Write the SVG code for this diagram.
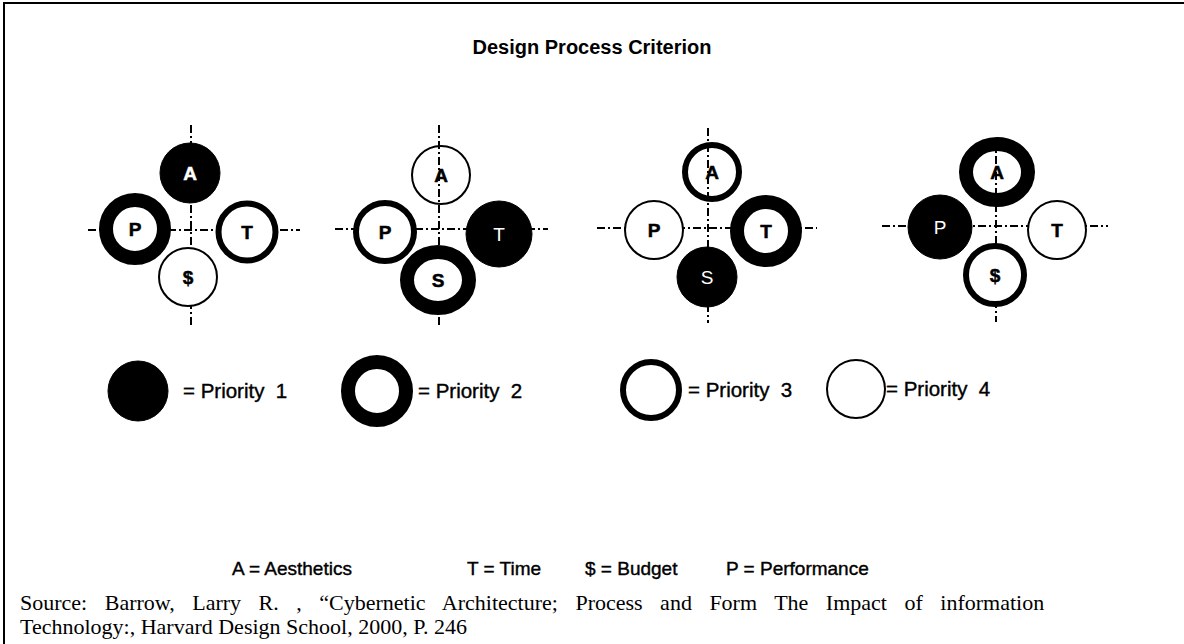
<svg xmlns="http://www.w3.org/2000/svg" width="1184" height="644" viewBox="0 0 1184 644">
<style>
.axis{stroke:#000;stroke-width:2;stroke-dasharray:8 3 2 3;fill:none}
.p1{fill:#000;stroke:#000;stroke-width:1}
.p2{fill:#fff;stroke:#000;stroke-width:14}
.p3{fill:#fff;stroke:#000;stroke-width:6}
.p4{fill:#fff;stroke:#000;stroke-width:2}
.open{fill:none}
.lb{font-family:"Liberation Sans",Arial,sans-serif;font-weight:bold;font-size:19px;text-anchor:middle;fill:#000;stroke:#000;stroke-width:0.5}
.lw{font-family:"Liberation Sans",Arial,sans-serif;font-size:19px;text-anchor:middle;fill:#fff}
.leg{font-family:"Liberation Sans",Arial,sans-serif;font-size:20.5px;fill:#000;stroke:#000;stroke-width:0.4;white-space:pre}
.key{font-family:"Liberation Sans",Arial,sans-serif;font-size:19px;fill:#000;stroke:#000;stroke-width:0.4;white-space:pre}
.title{font-family:"Liberation Sans",Arial,sans-serif;font-weight:bold;font-size:20px;text-anchor:middle}
.src{font-family:"Liberation Serif","Times New Roman",serif;font-size:22px}
</style>
<rect x="0" y="0" width="1184" height="644" fill="#fff"/>
<path d="M4,644 V3 H1184" fill="none" stroke="#000" stroke-width="2"/>
<text class="title" x="592" y="54">Design Process Criterion</text>
<g id="connectors">
<line class="axis" x1="88" y1="230" x2="300" y2="230"/>
<line class="axis" x1="191" y1="125" x2="191" y2="325"/>
<line class="axis" x1="335" y1="229" x2="548" y2="229"/>
<line class="axis" x1="439" y1="125" x2="439" y2="325"/>
<line class="axis" x1="597" y1="228" x2="817" y2="228"/>
<line class="axis" x1="708" y1="128" x2="708" y2="323"/>
<line class="axis" x1="882" y1="226" x2="1108" y2="226"/>
<line class="axis" x1="996" y1="140" x2="996" y2="322"/>
</g>
<g id="g1-A"><circle class="p1" cx="190" cy="173" r="30"/><text class="lb" x="190" y="180" style="fill:#fff;stroke:#fff">A</text></g>
<g id="g1-P"><circle class="p2" cx="135" cy="229" r="29"/><text class="lb" x="135" y="236">P</text></g>
<g id="g1-T"><circle class="p3" cx="247" cy="232" r="28.5"/><text class="lb" x="247" y="239">T</text></g>
<g id="g1-S"><circle class="p4" cx="188" cy="277" r="29"/><text class="lb" x="188" y="284">$</text></g>
<g id="g2-A"><circle class="p4 open" cx="441" cy="175" r="29"/><text class="lb" x="441" y="182">A</text></g>
<g id="g2-P"><circle class="p3" cx="385" cy="232" r="29"/><text class="lb" x="385" y="239">P</text></g>
<g id="g2-T"><circle class="p1" cx="499" cy="234" r="33"/><text class="lw" x="499" y="241">T</text></g>
<g id="g2-S"><ellipse class="p2" cx="438" cy="280" rx="31" ry="28"/><text class="lb" x="438" y="287">S</text></g>
<g id="g3-A"><circle class="p3 open" cx="712" cy="172" r="27"/><text class="lb" x="712" y="179">A</text></g>
<g id="g3-P"><circle class="p4" cx="654" cy="230" r="29"/><text class="lb" x="654" y="237">P</text></g>
<g id="g3-T"><circle class="p2" cx="766" cy="231" r="29"/><text class="lb" x="766" y="238">T</text></g>
<g id="g3-S"><circle class="p1" cx="707" cy="277" r="30"/><text class="lw" x="707" y="284">S</text></g>
<g id="g4-A"><ellipse class="p2 open" cx="997" cy="172" rx="31" ry="28"/><text class="lb" x="997" y="179">A</text></g>
<g id="g4-P"><circle class="p1" cx="940" cy="227" r="32"/><text class="lw" x="940" y="234">P</text></g>
<g id="g4-T"><circle class="p4" cx="1057" cy="230" r="29"/><text class="lb" x="1057" y="237">T</text></g>
<g id="g4-S"><circle class="p3" cx="995" cy="275" r="29"/><text class="lb" x="995" y="282">$</text></g>
<g id="legend-1"><circle class="p1" cx="138" cy="391" r="30"/><text class="leg" x="183" y="398">= Priority  1</text></g>
<g id="legend-2"><circle class="p2" cx="377" cy="391" r="29"/><text class="leg" x="418" y="398">= Priority  2</text></g>
<g id="legend-3"><circle class="p3" cx="651" cy="390" r="28"/><text class="leg" x="688" y="397">= Priority  3</text></g>
<g id="legend-4"><circle class="p4" cx="856" cy="389" r="29"/><text class="leg" x="886" y="396">= Priority  4</text></g>
<g id="key">
<text class="key" x="232" y="575">A = Aesthetics</text>
<text class="key" x="467" y="575">T = Time</text>
<text class="key" x="585" y="575">$ = Budget</text>
<text class="key" x="726" y="575">P = Performance</text>
</g>
<text class="src" x="20" y="610" word-spacing="12">Source: Barrow, Larry R. , “Cybernetic Architecture; Process and Form The Impact of information</text>
<text class="src" x="20" y="634">Technology:, Harvard Design School, 2000, P. 246</text>
</svg>
